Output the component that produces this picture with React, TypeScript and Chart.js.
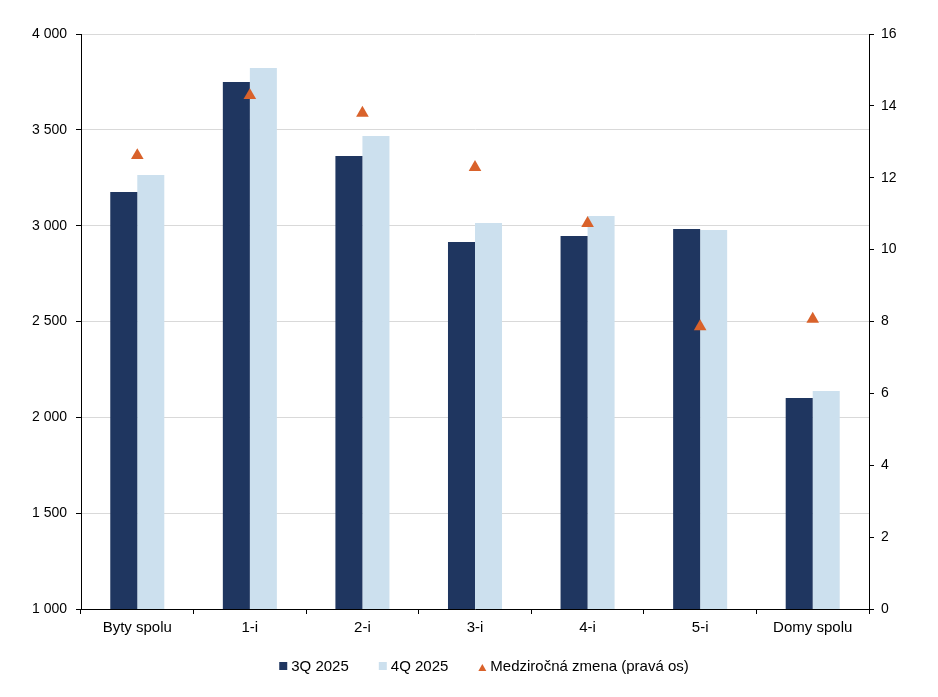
import React, { useEffect, useRef } from "react";
import { Chart, registerables } from "chart.js";

Chart.register(...registerables);

const categories = ["Byty spolu", "1-i", "2-i", "3-i", "4-i", "5-i", "Domy spolu"];
const q3Values = [3176, 3750, 3363, 2915, 2946, 2982, 2101];
const q4Values = [3264, 3822, 3468, 3014, 3050, 2977, 2137];
const yoyValues = [12.62, 14.29, 13.8, 12.29, 10.73, 7.86, 8.07];
const seriesNames = ["3Q 2025", "4Q 2025", "Medziročná zmena (pravá os)"];

const fmt = (v: number) => String(v).replace(/\B(?=(\d{3})+(?!\d))/g, " ");

const FONT_FAMILY = "'Liberation Sans', Arial, sans-serif";

const legendPlugin = {
  id: "customLegend",
  afterDraw(chart: any) {
    const ctx = chart.ctx as CanvasRenderingContext2D;
    const area = chart.chartArea;
    ctx.save();
    ctx.font = `15px ${FONT_FAMILY}`;
    ctx.textBaseline = "alphabetic";
    ctx.textAlign = "left";
    const items = chart.data.datasets.map((ds: any) => ({
      text: String(ds.label),
      color: ds.backgroundColor as string,
      style: ds.pointStyle as string,
    }));
    const box = 8;
    const gap = 4;
    const spacing = 30;
    const widths = items.map((it: any) => box + gap + ctx.measureText(it.text).width);
    const total = widths.reduce((a: number, b: number) => a + b, 0) + spacing * (items.length - 1);
    let x = (area.left + area.right) / 2 + 9 - total / 2;
    const baseline = area.bottom + 62;
    items.forEach((it: any, i: number) => {
      ctx.fillStyle = it.color;
      if (it.style === "triangle") {
        ctx.beginPath();
        ctx.moveTo(x + box / 2, baseline - 7);
        ctx.lineTo(x + box, baseline);
        ctx.lineTo(x, baseline);
        ctx.closePath();
        ctx.fill();
      } else {
        ctx.fillRect(x, baseline - 9, box, box);
      }
      ctx.fillStyle = "#000";
      ctx.fillText(it.text, x + box + gap, baseline);
      x += widths[i] + spacing;
    });
    ctx.restore();
  },
};

export default function App() {
  const ref = useRef<HTMLCanvasElement | null>(null);
  useEffect(() => {
    if (!ref.current) return;
    const font14 = { family: FONT_FAMILY, size: 14 };
    const font15 = { family: FONT_FAMILY, size: 15 };
    const chart = new Chart(ref.current, {
      type: "bar",
      data: {
        labels: categories,
        datasets: [
          {
            label: seriesNames[0],
            data: q3Values,
            backgroundColor: "#1f3660",
            yAxisID: "y",
            order: 2,
            pointStyle: "rect",
            categoryPercentage: 0.48,
            barPercentage: 1,
          } as any,
          {
            label: seriesNames[1],
            data: q4Values,
            backgroundColor: "#cce0ee",
            yAxisID: "y",
            order: 2,
            pointStyle: "rect",
            categoryPercentage: 0.48,
            barPercentage: 1,
          } as any,
          {
            type: "line",
            label: seriesNames[2],
            data: yoyValues,
            yAxisID: "y1",
            showLine: false,
            pointStyle: "triangle",
            pointRadius: 7.3,
            pointHoverRadius: 7.3,
            backgroundColor: "#d9622b",
            borderColor: "#d9622b",
            pointBorderWidth: 0,
            order: 0,
          } as any,
        ],
      },
      options: {
        responsive: false,
        animation: false,
        devicePixelRatio: 1,
        layout: { padding: { top: 26, bottom: 41, left: 0, right: 0 } },
        plugins: {
          tooltip: { enabled: false },
          legend: { display: false },
        },
        scales: {
          x: {
            grid: {
              offset: true,
              drawOnChartArea: false,
              drawTicks: true,
              tickLength: 5,
              tickColor: "#000",
            },
            border: { color: "#000", width: 1 },
            ticks: { color: "#000", font: font15, padding: 5, maxRotation: 0 },
            afterFit: (s: any) => {
              s.height = 39;
            },
          },
          y: {
            position: "left",
            min: 1000,
            max: 4000,
            grid: { color: "#d9d9d9", tickColor: "#000", tickLength: 5 },
            border: { color: "#000", width: 1 },
            ticks: {
              stepSize: 500,
              color: "#000",
              font: font14,
              padding: 9,
              callback: (v: any) => fmt(Number(v)),
            },
            afterFit: (s: any) => {
              s.width = 73;
            },
          },
          y1: {
            position: "right",
            min: 0,
            max: 16,
            grid: { drawOnChartArea: false, tickColor: "#000", tickLength: 5 },
            border: { color: "#000", width: 1 },
            ticks: { stepSize: 2, color: "#000", font: font14, padding: 7 },
            afterFit: (s: any) => {
              s.width = 61;
            },
          },
        },
      },
      plugins: [legendPlugin],
    });
    return () => chart.destroy();
  }, []);
  return (
    <div style={{ width: 922, height: 681 }}>
      <canvas ref={ref} width={922} height={681} />
    </div>
  );
}
